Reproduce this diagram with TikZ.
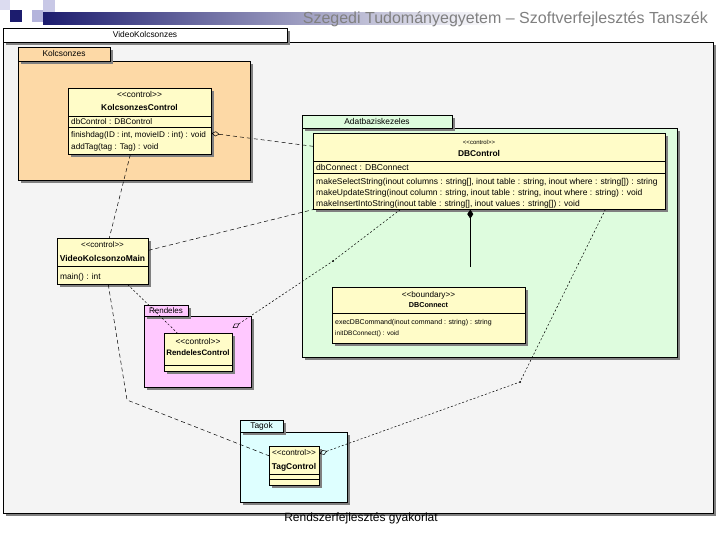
\documentclass[tikz,border=0pt]{standalone}
\usepackage{fontspec}
\setmainfont{Liberation Sans}
\usetikzlibrary{shadows,arrows.meta}
\definecolor{peach}{RGB}{253,217,166}
\definecolor{mint}{RGB}{222,252,222}
\definecolor{pinkp}{RGB}{255,200,255}
\definecolor{cyanp}{RGB}{222,255,255}
\definecolor{classy}{RGB}{255,252,200}
\definecolor{bgray}{RGB}{244,244,244}
\definecolor{shad}{RGB}{128,128,128}
\definecolor{navy}{RGB}{28,28,110}
\definecolor{titlegray}{RGB}{128,128,128}
\definecolor{sq1}{RGB}{220,220,240}
\definecolor{sq2}{RGB}{180,180,220}
\definecolor{sq3}{RGB}{200,200,230}
\tikzset{
  shd/.style={drop shadow={shadow xshift=3pt,shadow yshift=-3pt,opacity=1,fill=shad}},
  pkgbox/.style={draw=black,line width=0.5pt,shd,anchor=north west,inner sep=0pt},
  clsbox/.style={draw=black,line width=0.6pt,fill=classy,shd,anchor=north west,inner sep=0pt},
  txt/.style={font=\fontsize{#1}{10}\selectfont,inner sep=0pt},
  txt/.default=8.4,
  txtb/.style={font=\fontsize{#1}{10}\selectfont\bfseries,inner sep=0pt},
  txtb/.default=8.4,
  lt/.style={txt=#1,anchor=west},
  lt/.default=8.4,
  sep/.style={line width=0.6pt},
  dep/.style={line width=0.5pt,dash pattern=on 4pt off 3pt},
  depf/.style={line width=0.5pt,dash pattern=on 2pt off 2pt},
  agg/.style={{Diamond[open,length=8pt,width=5pt]}-},
  comp/.style={line width=0.6pt,-{Diamond[length=9pt,width=6pt]}}
}
\newcommand{\stereo}[1]{{<}{<}#1{>}{>}}
\begin{document}
\begin{tikzpicture}[x=1pt,y=-1pt]
\useasboundingbox (0,0) rectangle (720,540);
\fill[white] (0,0) rectangle (720,540);
% header
\fill[sq1] (0,0) rectangle (10,10);
\fill[navy] (10,10) rectangle (22,22);
\fill[sq2] (32,10) rectangle (43,22);
\shade[left color=navy,right color=white] (43,13) rectangle (495,25);
\fill[sq3] (43,0) rectangle (55,12);
\node[anchor=base east,inner sep=0pt,text=titlegray,font=\fontsize{16}{18}\selectfont] (title) at (708,24) {Szegedi Tudományegyetem – Szoftverfejlesztés Tanszék};
% outer package
\node[pkgbox,fill=bgray,minimum width=710pt,minimum height=471pt] (vkbody) at (3,42) {};
\node[pkgbox,fill=white,minimum width=284pt,minimum height=14pt] (vktab) at (3,28) {};
\node[txt] (vklabel) at (145,35) {VideoKolcsonzes};
% Kolcsonzes package
\node[pkgbox,fill=peach,minimum width=232pt,minimum height=119pt] (kbody) at (18,61) {};
\node[pkgbox,fill=peach,minimum width=92pt,minimum height=14pt] (ktab) at (18,47) {};
\node[txt] (klabel) at (64,54) {Kolcsonzes};
% Adatbaziskezeles package
\node[pkgbox,fill=mint,minimum width=375pt,minimum height=229pt] (abody) at (302,128) {};
\node[pkgbox,fill=mint,minimum width=150pt,minimum height=13pt] (atab) at (302,115) {};
\node[txt] (alabel) at (377,121.5) {Adatbaziskezeles};
% Rendeles package
\node[pkgbox,fill=pinkp,minimum width=107pt,minimum height=71pt] (rbody) at (144,316) {};
\node[pkgbox,fill=pinkp,minimum width=44pt,minimum height=11pt] (rtab) at (144,305) {};
\node[txt=8] (rlabel) at (166,310.5) {Rendeles};
% Tagok package
\node[pkgbox,fill=cyanp,minimum width=107pt,minimum height=70pt] (tbody) at (240,432) {};
\node[pkgbox,fill=cyanp,minimum width=43pt,minimum height=12pt] (ttab) at (240,420) {};
\node[txt] (tlabel) at (261.5,426) {Tagok};
% KolcsonzesControl
\node[clsbox,minimum width=143pt,minimum height=66pt] (kc) at (68,88) {};
\node[txt] at (139.5,94.5) {\stereo{control}};
\node[txtb] at (139.5,107) {KolcsonzesControl};
\draw[sep] (68,116) -- (211,116);
\node[lt=8.2] at (71,121.5) {dbControl : DBControl};
\draw[sep] (68,127) -- (211,127);
\node[lt=8.2] at (71,135) {finishdag(ID : int, movieID : int) : void};
\node[lt=8.2] at (71,147) {addTag(tag : Tag) : void};
% DBControl
\node[clsbox,minimum width=352pt,minimum height=76pt] (dbc) at (313,133) {};
\node[txt=6] at (479,142) {\stereo{control}};
\node[txtb=8.4] at (479,153.5) {DBControl};
\draw[sep] (313,161) -- (665,161);
\node[lt=8.5] at (316,167) {dbConnect : DBConnect};
\draw[sep] (313,173) -- (665,173);
\node[lt=8.5] at (316,182) {makeSelectString(inout columns : string[], inout table : string, inout where : string[]) : string};
\node[lt=8.5] at (316,193) {makeUpdateString(inout column : string, inout table : string, inout where : string) : void};
\node[lt=8.5] at (316,204) {makeInsertIntoString(inout table : string[], inout values : string[]) : void};
% DBConnect
\node[clsbox,minimum width=193pt,minimum height=56pt] (dbn) at (332,287) {};
\node[txt=8.2] at (428.5,295) {\stereo{boundary}};
\node[txtb=7.2] at (428.5,305) {DBConnect};
\draw[sep] (332,313) -- (525,313);
\node[lt=7] at (335,323) {execDBCommand(inout command : string) : string};
\node[lt=6.5] at (335,333.5) {initDBConnect() : void};
% VideoKolcsonzoMain
\node[clsbox,minimum width=91pt,minimum height=46pt] (vkm) at (57,238) {};
\node[txt=8] at (102.5,245) {\stereo{control}};
\node[txtb=8.5] at (102.5,258) {VideoKolcsonzoMain};
\draw[sep] (57,266) -- (148,266);
\node[lt] at (60,277) {main() : int};
% RendelesControl
\node[clsbox,minimum width=68pt,minimum height=38pt] (rc) at (164,333) {};
\node[txt=8.4] at (198,341) {\stereo{control}};
\node[txtb=7.9] at (198,353) {RendelesControl};
\draw[sep] (164,365) -- (232,365);
% TagControl
\node[clsbox,minimum width=50pt,minimum height=39pt] (tc) at (269,446) {};
\node[txt=8.2] at (294,453) {\stereo{control}};
\node[txtb] at (294,467) {TagControl};
\draw[sep] (269,474) -- (319,474);
\draw[sep] (269,479) -- (319,479);
% bend points
\coordinate (b5) at (127,400);
\coordinate (b6) at (333,261);
\coordinate (b7) at (520,382);
% connectors
\draw[dep,agg] ([yshift=-12pt]kc.east) -- ([yshift=25pt]dbc.west);
\draw[dep] ([xshift=-9.5pt]kc.south) -- ([xshift=6.5pt]vkm.north);
\draw[dep] ([yshift=11pt]vkm.east) -- (dbc.south west);
\draw[depf] ([xshift=25pt]vkm.south) -- ([xshift=-21pt]rc.north);
\draw[dep] ([xshift=5.5pt]vkm.south) -- (b5) -- ([yshift=10pt]tc.west);
\draw[depf,agg] ([yshift=5pt]rc.north east) -- (b6) -- ([xshift=-89pt]dbc.south);
\draw[depf,agg] ([yshift=12pt]tc.east) -- (b7) -- ([xshift=116pt]dbc.south);
\fill (b6) circle (1pt);
\fill (b7) circle (1pt);
\draw[comp,shorten <=20pt] ([xshift=41.5pt]dbn.north) -- ([xshift=-19pt]dbc.south);
% footer
\node[inner sep=0pt,font=\fontsize{12}{14}\selectfont] (footer) at (361,518) {Rendszerfejlesztés gyakorlat};
\end{tikzpicture}
\end{document}
